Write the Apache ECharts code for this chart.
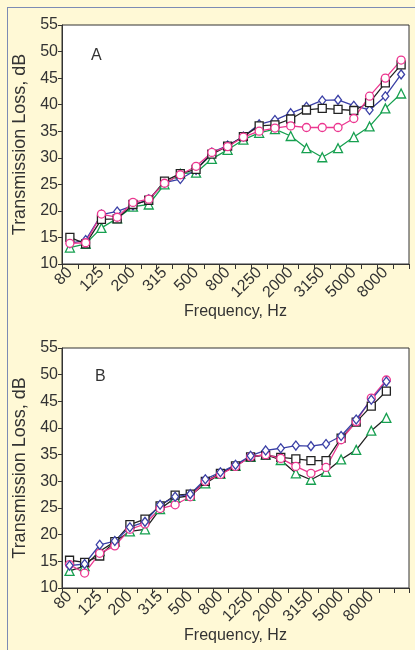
<!DOCTYPE html>
<html style="height: 100%">
 <head>
  <meta charset="utf-8" />
  <script type="text/javascript" src="https://cdn.jsdelivr.net/npm/echarts@6/dist/echarts.min.js"></script>
 </head>
 <body style="margin: 0; background-color: #FFF9D6;">
  <div style="position:absolute;left:7px;top:7px;width:420px;height:660px;border-left:1px solid #7C8BB4;border-top:1px solid #7C8BB4;"></div>
  <div id="main" style="position:absolute;left:0;top:0;width:415px;height:650px;"></div>
  <script type="text/javascript">
   // one-third octave bands
   var freqs = ['80', '100', '125', '160', '200', '250', '315', '400', '500', '630', '800',
                '1000', '1250', '1600', '2000', '2500', '3150', '4000', '5000', '6300', '8000', '10000'];
   var freqsB = freqs.concat(['']);

   // panel A
   var blackA = [15.0, 13.8, 18.4, 18.5, 21.2, 22.0, 25.6, 27.0, 27.8, 30.7, 32.2, 34.0, 36.0, 36.2, 37.3, 39.0, 39.3, 39.1, 38.9, 40.4, 44.1, 47.5];
   var pinkA = [13.9, 14.0, 19.4, 18.8, 21.6, 22.2, 25.2, 26.8, 28.4, 31.0, 32.1, 33.9, 35.0, 35.6, 36.0, 35.7, 35.7, 35.7, 37.4, 41.6, 45.0, 48.4];
   var blueA = [13.9, 14.5, 19.3, 19.9, 21.0, 22.2, 25.3, 26.0, 27.7, 31.0, 32.3, 34.0, 36.3, 37.1, 38.4, 39.6, 40.8, 40.9, 39.8, 39.0, 41.6, 45.7];
   var greenA = [13.1, 13.8, 16.8, 18.6, 20.8, 21.2, 25.0, 27.0, 27.2, 29.8, 31.5, 33.4, 34.7, 35.4, 34.1, 31.8, 30.1, 31.8, 33.9, 35.9, 39.3, 42.1];

   // panel B
   var blackB = [15.2, 14.8, 16.0, 18.7, 21.9, 22.9, 25.4, 27.4, 27.6, 30.0, 31.5, 32.9, 34.6, 34.9, 34.5, 34.2, 33.9, 33.9, 38.1, 41.1, 44.1, 46.9];
   var pinkB = [14.4, 12.8, 16.5, 17.9, 21.0, 22.0, 24.9, 25.6, 27.1, 30.0, 31.3, 32.8, 34.6, 35.0, 34.3, 32.8, 31.5, 32.6, 37.8, 41.2, 45.6, 49.0];
   var blueB = [14.2, 14.5, 18.1, 18.8, 21.4, 22.4, 25.6, 27.1, 27.6, 30.4, 31.7, 33.1, 34.8, 35.8, 36.2, 36.7, 36.6, 37.0, 38.5, 41.6, 45.3, 48.7];
   var greenB = [13.2, 14.1, 16.9, 18.7, 20.6, 21.0, 24.8, 26.9, 27.3, 29.6, 31.4, 32.9, 34.6, 35.0, 34.0, 31.5, 30.3, 31.8, 34.1, 35.9, 39.5, 41.9];

   var yTicks = [10, 55, 5];

   var txt = '#333';
   var font = 'Liberation Sans, Arial, sans-serif';
   var cBlack = '#222', cPink = '#EC3790', cBlue = '#3B40A6', cGreen = '#17A050';

   function xAxisFor(idx, data, gap) {
     return {
       type: 'category', gridIndex: idx, data: data, boundaryGap: true,
       axisLine: { lineStyle: { color: txt, width: 1 } },
       axisTick: { show: true, interval: 0, length: 5, lineStyle: { color: txt } },
       axisLabel: { interval: 1, rotate: 45, fontSize: 16, color: txt, fontFamily: font, margin: 6 },
       splitLine: { show: false },
       name: 'Frequency, Hz', nameLocation: 'middle', nameGap: gap,
       nameTextStyle: { fontSize: 16, color: txt, fontFamily: font }
     };
   }
   function yAxisFor(idx) {
     return {
       type: 'value', gridIndex: idx, min: yTicks[0], max: yTicks[1], interval: yTicks[2],
       axisLine: { show: true, lineStyle: { color: txt, width: 1 } },
       axisTick: { show: true, length: 4, lineStyle: { color: txt } },
       axisLabel: { fontSize: 16, color: txt, fontFamily: font, margin: 4 },
       splitLine: { show: false },
       name: 'Transmission Loss, dB', nameLocation: 'middle', nameGap: 28,
       nameTextStyle: { fontSize: 18, color: txt, fontFamily: font }
     };
   }
   function line(idx, data, color, symbol, size, lineColor) {
     return {
       type: 'line', xAxisIndex: idx, yAxisIndex: idx, data: data,
       symbol: symbol, symbolSize: size, showAllSymbol: true,
       lineStyle: { color: lineColor || color, width: 1.3 },
       itemStyle: { color: '#fff', borderColor: color, borderWidth: 1.3 },
       animation: false
     };
   }

   var myChart = echarts.init(document.getElementById('main'));
   var option = {
     backgroundColor: 'transparent',
     title: [
       { text: 'A', left: 86, top: 43, textStyle: { fontSize: 16, fontWeight: 'normal', color: txt, fontFamily: font } },
       { text: 'B', left: 90, top: 364, textStyle: { fontSize: 16, fontWeight: 'normal', color: txt, fontFamily: font } }
     ],
     grid: [
       { left: 62, top: 25, width: 347, height: 239, show: true, backgroundColor: '#fff', borderColor: txt, borderWidth: 1 },
       { left: 62, top: 348, width: 347, height: 240, show: true, backgroundColor: '#fff', borderColor: txt, borderWidth: 1 }
     ],
     xAxis: [xAxisFor(0, freqs, 36), xAxisFor(1, freqsB, 38)],
     yAxis: [yAxisFor(0), yAxisFor(1)],
     series: [
       line(0, greenA, cGreen, 'triangle', 9),
       line(0, blueA, cBlue, 'diamond', [7, 9]),
       line(0, blackA, cBlack, 'rect', 8),
       line(0, pinkA, cPink, 'circle', 8),
       line(1, greenB, cGreen, 'triangle', 9, cBlack),
       line(1, blackB, cBlack, 'rect', 8),
       line(1, pinkB, cPink, 'circle', 8),
       line(1, blueB, cBlue, 'diamond', [7, 9])
     ]
   };
   option && myChart.setOption(option);
  </script>
 </body>
</html>
